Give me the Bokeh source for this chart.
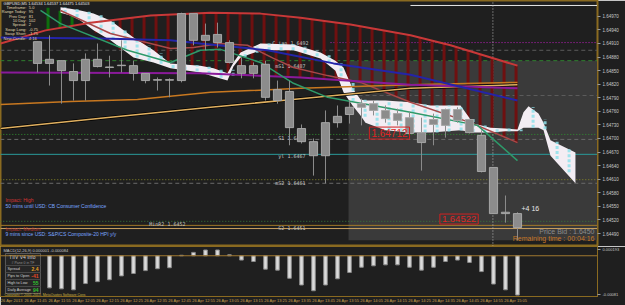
import numpy as np
from bokeh.plotting import figure
from bokeh.layouts import column
from bokeh.models import Range1d, FixedTicker, Label, PrintfTickFormatter, Span
from bokeh.core.properties import value
from bokeh.embed import file_html
from bokeh.resources import INLINE

# ---------------- data (GBPUSD M5, bar index 0..40) ----------------
opens = [1.64914, 1.64866, 1.64872, 1.64848, 1.64828, 1.64875, 1.64858, 1.64861, 1.64861, 1.64844,
         1.64830, 1.64829, 1.64828, 1.64976, 1.64917, 1.64930, 1.64912, 1.64861, 1.64844, 1.64864,
         1.64808, 1.64804, 1.64722, 1.64693, 1.64662, 1.64735, 1.64753, 1.64769, 1.64777, 1.64762,
         1.64755, 1.64746, 1.64713, 1.64731, 1.64729, 1.64764, 1.64742, 1.64707, 1.64636, 1.64534,
         1.64534]
highs = [1.64914, 1.64928, 1.64872, 1.64866, 1.64888, 1.64910, 1.64883, 1.64917, 1.64872, 1.64844,
         1.64835, 1.64833, 1.64978, 1.64976, 1.64954, 1.64956, 1.64917, 1.64879, 1.64868, 1.64872,
         1.64828, 1.64828, 1.64731, 1.64700, 1.64762, 1.64773, 1.64784, 1.64788, 1.64784, 1.64773,
         1.64766, 1.64758, 1.64746, 1.64755, 1.64766, 1.64769, 1.64744, 1.64718, 1.64636, 1.64574,
         1.64537]
lows = [1.64846, 1.64817, 1.64777, 1.64784, 1.64784, 1.64857, 1.64835, 1.64846, 1.64828, 1.64822,
        1.64806, 1.64791, 1.64824, 1.64906, 1.64895, 1.64901, 1.64866, 1.64833, 1.64833, 1.64784,
        1.64777, 1.64685, 1.64689, 1.64618, 1.64601, 1.64724, 1.64733, 1.64729, 1.64751, 1.64735,
        1.64729, 1.64707, 1.64629, 1.64685, 1.64702, 1.64735, 1.64711, 1.64625, 1.64534, 1.64514,
        1.64475]
closes = [1.64866, 1.64875, 1.64850, 1.64828, 1.64875, 1.64859, 1.64857, 1.64862, 1.64844, 1.64828,
          1.64829, 1.64830, 1.64976, 1.64917, 1.64928, 1.64912, 1.64868, 1.64844, 1.64861, 1.64791,
          1.64784, 1.64724, 1.64693, 1.64662, 1.64735, 1.64749, 1.64769, 1.64777, 1.64762, 1.64744,
          1.64740, 1.64711, 1.64691, 1.64742, 1.64764, 1.64740, 1.64713, 1.64627, 1.64534, 1.64537,
          1.64503]
macd_hist = [-0.00064, -0.00067, -0.00069, -0.00071, -0.00058, -0.00054, -0.00050, -0.00042, -0.00037, -0.00031,
             -0.00027, -0.00025, 0.00001, 0.00007, 0.00012, 0.00012, 0.00002, -0.00009, -0.00012, -0.00028,
             -0.00030, -0.00047, -0.00061, -0.00073, -0.00061, -0.00048, -0.00035, -0.00024, -0.00021, -0.00019,
             -0.00019, -0.00024, -0.00030, -0.00024, -0.00012, -0.00009, -0.00014, -0.00033, -0.00059, -0.00071,
             -0.00082]
macd_main = 0.000001
macd_signal = -0.000084

# Ichimoku-style cloud spans
span_a_x = [-3.08, 0.67, 4.42, 9.42, 14.42, 18.58, 21.92, 26.08, 31.08, 34.42, 40.0]
span_a = [1.64910, 1.64939, 1.64956, 1.64972, 1.64978, 1.64976, 1.64967, 1.64952, 1.64928, 1.64906, 1.64861]
span_b_x = [0.0, 1.92, 3.58, 5.25, 7.75, 11.08, 13.58, 17.75, 21.92, 26.92, 31.08, 36.08, 40.0]
span_b = [1.64996, 1.64983, 1.64965, 1.64928, 1.64883, 1.64866, 1.64850, 1.64839, 1.64835, 1.64828,
          1.64780, 1.64735, 1.64691]
kijun_x = [1.92, 6.08, 11.08, 13.0, 15.25, 17.5, 19.67, 21.33, 24.17, 26.92, 31.08, 36.08, 40.0]
kijun = [1.64983, 1.64932, 1.64899, 1.64901, 1.64910, 1.64906, 1.64877, 1.64857, 1.64839, 1.64824,
         1.64780, 1.64735, 1.64691]

# second (white) cloud
wc_x = [1.92, 2.75, 3.58, 4.67, 6.08, 8.0, 9.67, 11.08, 13.58, 14.67, 15.83, 16.33, 16.92, 18.58, 21.33,
        23.58, 24.83, 25.5, 26.25, 26.92, 27.33, 29.0, 31.08, 32.75, 35.25, 36.33, 37.75, 39.0, 40.0, 40.5,
        40.92, 41.75, 42.17, 42.75, 44.83]
wc_upper = [1.64990, 1.64987, 1.64983, 1.64976, 1.64961, 1.64923, 1.64895, 1.64866, 1.64861, 1.64855,
            1.64844, 1.64868, 1.64890, 1.64910, 1.64908, 1.64890, 1.64872, 1.64857, 1.64811, 1.64786,
            1.64784, 1.64784, 1.64780, 1.64773, 1.64773, 1.64733, 1.64724, 1.64722, 1.64720, 1.64758,
            1.64771, 1.64755, 1.64735, 1.64696, 1.64669]
wc_lower = [1.64978, 1.64972, 1.64961, 1.64939, 1.64917, 1.64879, 1.64868, 1.64855, 1.64846, 1.64837,
            1.64828, 1.64859, 1.64879, 1.64895, 1.64895, 1.64877, 1.64850, 1.64802, 1.64773, 1.64751,
            1.64735, 1.64718, 1.64713, 1.64713, 1.64718, 1.64713, 1.64713, 1.64716, 1.64716, 1.64724,
            1.64724, 1.64724, 1.64718, 1.64662, 1.64601]

# moving-average lines
blue_x = [-3.08, 5.25, 11.08, 13.58, 19.17, 24.67, 31.08, 40.0]
blue_y = [1.64923, 1.64921, 1.64917, 1.64910, 1.64895, 1.64866, 1.64841, 1.64784]
purple_x = [-3.08, 13.58, 21.92, 31.08, 40.0]
purple_y = [1.64846, 1.64844, 1.64835, 1.64819, 1.64811]
orange_x = [-3.08, 2.75, 8.33, 14.42, 21.92, 31.08, 40.0]
orange_y = [1.64775, 1.64782, 1.64786, 1.64802, 1.64811, 1.64819, 1.64824]
tan_x = [-3.08, 5.67, 14.42, 21.92, 31.08, 40.0]
tan_y = [1.64722, 1.64746, 1.64769, 1.64788, 1.64811, 1.64819]
green_x = [0.25, 1.92, 7.5, 11.08, 13.58, 15.25, 18.58, 21.33, 24.17, 31.08, 36.67, 40.0]
green_y = [1.64983, 1.64954, 1.64895, 1.64868, 1.64895, 1.64897, 1.64868, 1.64822, 1.64791, 1.64758,
           1.64729, 1.64651]

# horizontal levels
level_prices = [1.64994, 1.64912, 1.64895, 1.64872, 1.64795, 1.64709, 1.64698, 1.64665, 1.64609,
                1.64601, 1.64517, 1.64508, 1.64501]
level_from = [31.08, 24.42, -3.1, -3.1, 24.42, -3.1, -3.1, -3.1, -3.1, -3.1, -3.1, -3.1, -3.1]
level_colors = ["#e6e6e6", "#c020c0", "#5c5c5c", "#2f7f2f", "#5c5c5c", "#2f8f2f", "#6a6a6a", "#2a9a9a",
                "#8a8a28", "#6a6a6a", "#3a7a3a", "#a07828", "#c8a060"]
level_dashes = ["solid", "1 2", "4 3", "4 3", "4 3", "1 2", "4 3", "solid", "1 2", "4 3", "1 2", "solid", "solid"]

axis_box_prices = [1.64994, 1.64912, 1.64895, 1.64872, 1.64709, 1.64698, 1.64665, 1.64609, 1.64601, 1.64517]
axis_box_fill = ["#e8e8e8", "#e020e0", "#707070", "#8aa020", "#20a020", "#707070", "#20c0c0", "#c0b020",
                 "#707070", "#20a020"]

price_ticks = [1.64970, 1.64940, 1.64910, 1.64880, 1.64850, 1.64820, 1.64790, 1.64760, 1.64730, 1.64700,
               1.64670, 1.64640, 1.64610, 1.64580, 1.64550, 1.64520, 1.64490]

pivot_names = ["C_ian", "mS1", "S1", "yl", "mS2", "S2", "MinR2"]
pivot_values = ["1.6492", "1.6487", "1.6471", "1.6467", "1.6461", "1.6451", "1.6452"]

info_labels = ["Timeframe:", "Range Today:", "Prev Day:", "10 Day:", "Spread:", "Swap Long:", "Swap Short:", "New Candle:"]
info_values = ["5.0", "95", "81", "102", "2", "-0.75", "-1.75", "4:16"]

time_tick_bars = [-3, -1, 1, 3, 5, 7, 9, 11, 13, 15, 17, 19, 21, 23, 25, 27, 29, 31, 33, 35, 37, 39]
time_tick_labels = ["26 Apr 2013", "26 Apr 11:45", "26 Apr 11:55", "26 Apr 12:05", "26 Apr 12:15",
                    "26 Apr 12:25", "26 Apr 12:35", "26 Apr 12:45", "26 Apr 12:55", "26 Apr 13:05",
                    "26 Apr 13:15", "26 Apr 13:25", "26 Apr 13:35", "26 Apr 13:45", "26 Apr 13:55",
                    "26 Apr 14:05", "26 Apr 14:15", "26 Apr 14:25", "26 Apr 14:35", "26 Apr 14:45",
                    "26 Apr 14:55", "26 Apr 15:05"]

session_start, session_top, session_bottom = 25.92, 1.64872, 1.64475
cursor_bar = 38
high_mark, low_mark = 1.64712, 1.64522

# ---------------- style ----------------
BG = "#1f1f1f"
GOLD = "#8a6a20"
SANS = "Liberation Sans"
MONO = "DejaVu Sans Mono"
X0, X1 = -3.083, 46.667
Y0, Y1 = 1.644613, 1.65005

bars = np.arange(len(opens))

p = figure(frame_width=597, frame_height=246, x_range=Range1d(X0, X1), y_range=Range1d(Y0, Y1),
           x_axis_location=None, y_axis_location="right", toolbar_location=None, output_backend="svg",
           min_border_left=0, min_border_top=0, min_border_bottom=0, min_border_right=28,
           background_fill_color=BG, border_fill_color=BG, outline_line_color=GOLD, outline_line_width=2)
p.grid.grid_line_color = None
ya = p.yaxis[0]
ya.ticker = FixedTicker(ticks=price_ticks)
ya.formatter = PrintfTickFormatter(format="%.5f")
ya.major_label_text_font = SANS
ya.major_label_text_font_size = "4.5px"
ya.major_label_text_color = "#c8c8c8"
ya.major_label_standoff = 2
ya.major_tick_out = 3
ya.major_tick_in = 0
ya.major_tick_line_color = "#9a9a9a"
ya.minor_tick_line_color = None
ya.axis_line_color = GOLD

# session box
p.quad(left=[session_start], right=[X1 + 1], top=[session_top], bottom=[session_bottom],
       fill_color="#3a3a3a", line_color=None)

# horizontal levels
for lp, lf, lc, ld in zip(level_prices, level_from, level_colors, level_dashes):
    p.line([lf, X1 + 1], [lp, lp], line_color=lc, line_dash=ld, line_width=1)

# cursor line
p.line([cursor_bar - 0.05, cursor_bar - 0.05], [Y0, Y1], line_color="#b8b8b8", line_dash="1 2", line_width=1)

# cloud bars
kk = np.arange(1, 41)
ca = np.interp(kk, span_a_x, span_a)
cb = np.interp(kk, span_b_x, span_b)
ccol = ["#0e6e0e" if b > a else "#6e1010" for a, b in zip(ca, cb)]
p.segment(x0=list(kk - 0.12), x1=list(kk - 0.12), y0=list(np.minimum(ca, cb)), y1=list(np.maximum(ca, cb)),
          line_color=ccol, line_width=3)

# pivot labels (drawn under the cloud / candles)
piv_x = [22.58, 22.58, 22.58, 22.58, 22.58, 22.58, 12.58]
p.text(x=piv_x, y=[float(v) for v in pivot_values],
       text=[f"{n}  {v}" if n != "C_ian" else f"{n} {v}" for n, v in zip(pivot_names, pivot_values)],
       text_font=value(MONO), text_font_size="5px", text_color="#c4c4c4",
       text_align="right", text_baseline="top", y_offset=1)

# white cloud
p.varea(x=wc_x, y1=wc_lower, y2=wc_upper, fill_color="#f3edf3")
kd = np.arange(2, 45)
du = np.interp(kd, wc_x, wc_upper)
dl = np.interp(kd, wc_x, wc_lower)
m = (du - dl) > 0.00004
p.segment(x0=list(kd[m] + 0.3), x1=list(kd[m] + 0.3), y0=list(dl[m]), y1=list(du[m]),
          line_color="#8ee0ea", line_width=3, line_dash="3 2", line_alpha=0.85)

# span lines and MAs
p.line(span_a_x, span_a, line_color="#c83838", line_width=2)
p.line(kijun_x, kijun, line_color="#a84848", line_width=1.5)
p.line(tan_x, tan_y, line_color="#000000", line_width=3)
p.line(tan_x, tan_y, line_color="#e0b060", line_width=1.5)
p.line(orange_x, orange_y, line_color="#c87820", line_width=1.5)
p.line(purple_x, purple_y, line_color="#8a1a9a", line_width=2)
p.line(blue_x, blue_y, line_color="#2424a8", line_width=2)
p.line(green_x, green_y, line_color="#2e9a6a", line_width=1.5)

# candles
p.segment(x0=list(bars), x1=list(bars), y0=highs, y1=lows, line_color="#8c8c8c", line_width=1)
p.vbar(x=list(bars), top=opens, bottom=closes, width=0.68, fill_color="#8c8c8c", line_color="#a6a6a6",
       line_width=1)

# info text (top-left)
iy = [1.64990 - i * 0.000097 for i in range(len(info_labels))]
p.text(x=[-0.92] * len(info_labels), y=iy, text=info_labels, text_font=value(SANS),
       text_font_size="4px", text_color="#e0d8b0", text_align="right", text_baseline="middle")
p.text(x=[-0.72] * len(info_values), y=iy, text=info_values, text_font=value(SANS),
       text_font_size="4px", text_color="#e0d8b0", text_align="left", text_baseline="middle")
p.text(x=[-2.83], y=[1.64999],
       text=[f"GBPUSD,M5  {opens[-1]:.5f} {highs[-1]:.5f} {lows[-1]:.5f} {closes[-1]:.5f}"],
       text_font=value(SANS), text_font_size="4px", text_color="#e8e8e8", text_baseline="middle")

# news events
p.text(x=[-2.67] * 4, y=[1.64563, 1.64550, 1.64501, 1.64489],
       text=["Impact: High", "50 mins until USD: CB Consumer Confidence", "Impact: Medium",
             "9 mins since USD: S&P/CS Composite-20 HPI y/y"],
       text_color=["#d03434", "#7aa6ff", "#b03030", "#7aa6ff"],
       text_font=value(SANS), text_font_size="5px", text_baseline="middle")

# price marks
for xv, yv, fs in [(29.33, high_mark, "10px"), (35.13, low_mark, "9.5px")]:
    p.add_layout(Label(x=xv, y=yv, text=f"{yv:.5f}", text_font=SANS, text_font_size=fs,
                       text_color="#e02424", text_align="center", text_baseline="middle",
                       border_line_color="#d02020", border_line_width=1, padding=2))

p.text(x=[40.33], y=[1.64545], text=["+4 16"], text_font=value(SANS), text_font_size="7px",
       text_color="#e8e8e8", text_baseline="middle")
p.text(x=[46.58, 46.58], y=[1.64494, 1.64478],
       text=[f"Price Bid :  {closes[-1]:.4f}", "Remaining time :  00:04:16"],
       text_color=["#8c8c8c", "#c87828"], text_font=value(SANS), text_font_size="7px",
       text_align="right", text_baseline="middle")

# axis boxes
for bp, bf in zip(axis_box_prices, axis_box_fill):
    tc = "#000000" if bf in ("#e8e8e8", "#8aa020", "#20a020", "#20c0c0", "#c0b020") else "#ffffff"
    p.add_layout(Label(x=46.83, y=bp, text=f"{bp:.5f}", text_font=SANS, text_font_size="4.5px",
                       text_color=tc, background_fill_color=bf, text_baseline="middle", padding=0))

# ---------------- MACD panel ----------------
q = figure(frame_width=597, frame_height=50, x_range=p.x_range, y_range=Range1d(-0.00085, 0.000193),
           y_axis_location="right", x_axis_location="below", toolbar_location=None, output_backend="svg",
           min_border_left=0, min_border_top=0, min_border_bottom=9, min_border_right=28,
           background_fill_color=BG, border_fill_color=BG, outline_line_color=GOLD, outline_line_width=1)
q.grid.grid_line_color = None
tpos = [b + 0.85 for b in time_tick_bars]
xa = q.xaxis[0]
xa.ticker = FixedTicker(ticks=tpos)
xa.major_label_overrides = {t: s for t, s in zip(tpos, time_tick_labels)}
xa.major_label_text_font = SANS
xa.major_label_text_font_size = "4px"
xa.major_label_text_color = "#c8a050"
xa.major_label_standoff = 1
xa.major_tick_out = 0
xa.major_tick_in = 0
xa.major_tick_line_color = None
xa.minor_tick_line_color = None
xa.axis_line_color = GOLD

qa = q.yaxis[0]
qt = [0.00013, -0.00081]
qa.ticker = FixedTicker(ticks=qt)
qa.major_label_overrides = {qt[0]: "0.000193", qt[1]: "-0.00081"}
qa.major_label_text_font = SANS
qa.major_label_text_font_size = "4px"
qa.major_label_text_color = "#c8c8c8"
qa.major_label_standoff = 2
qa.major_tick_out = 3
qa.major_tick_in = 0
qa.major_tick_line_color = "#9a9a9a"
qa.minor_tick_line_color = None
qa.axis_line_color = GOLD

q.vbar(x=list(bars), top=macd_hist, bottom=0, width=0.3, fill_color="#dcdcdc", line_color="#8a8a8a")
q.add_layout(Span(location=0, dimension="width", line_color="#a07830", line_width=1))

q.text(x=[-2.83], y=[0.00011], text=[f"MACD(12,26,9) {macd_main:.6f} {macd_signal:.6f}"],
       text_font=value(SANS), text_font_size="4px", text_color="#c8c8c8", text_baseline="middle")

# info box
q.quad(left=[-2.67], right=[0.25], top=[0.000047], bottom=[-0.000787], fill_color="#262626", line_color="#5a5a5a")
q.segment(x0=[-2.67] * 4, x1=[0.25] * 4, y0=[-0.000203, -0.000349, -0.000495, -0.000641],
          y1=[-0.000203, -0.000349, -0.000495, -0.000641], line_color="#4a4a4a")
q.text(x=[-1.21], y=[-0.000036], text=["TIIV  V4 Info"], text_font=value(SANS), text_font_size="5px",
       text_color="#d8d8d8", text_align="center", text_baseline="middle")
q.text(x=[-1.21], y=[-0.000141], text=["# Pane 0 in TF"], text_font=value(SANS), text_font_size="3.5px",
       text_color="#909090", text_align="center", text_baseline="middle")
q.text(x=[-2.5] * 4, y=[-0.000276, -0.000422, -0.000568, -0.000714],
       text=["Spread", "Pips to Open", "High to Low", "Daily Average"], text_font=value(SANS),
       text_font_size="3.8px", text_color="#d0d0d0", text_baseline="middle")
q.text(x=[0.08] * 4, y=[-0.000276, -0.000422, -0.000568, -0.000714], text=["2.4", "-41", "55", "94"],
       text_color=["#e8a020", "#e04828", "#30c030", "#30c030"], text_font=value(SANS),
       text_font_size="5px", text_font_style="bold", text_align="right", text_baseline="middle")
q.text(x=[-2.75], y=[-0.000829], text=["Copyright \u00a9 2001-2013, MetaQuotes Software Corp."],
       text_font=value(SANS), text_font_size="3.5px", text_color="#c8b040", text_baseline="middle")
q.add_layout(Label(x=46.83, y=0, text="0.00", text_font=SANS, text_font_size="4.5px",
                   text_color="#000000", background_fill_color="#d08a20", text_baseline="middle", padding=0))

layout = column(p, q, spacing=0)
with open("out.html", "w") as f:
    f.write(file_html(layout, INLINE))
